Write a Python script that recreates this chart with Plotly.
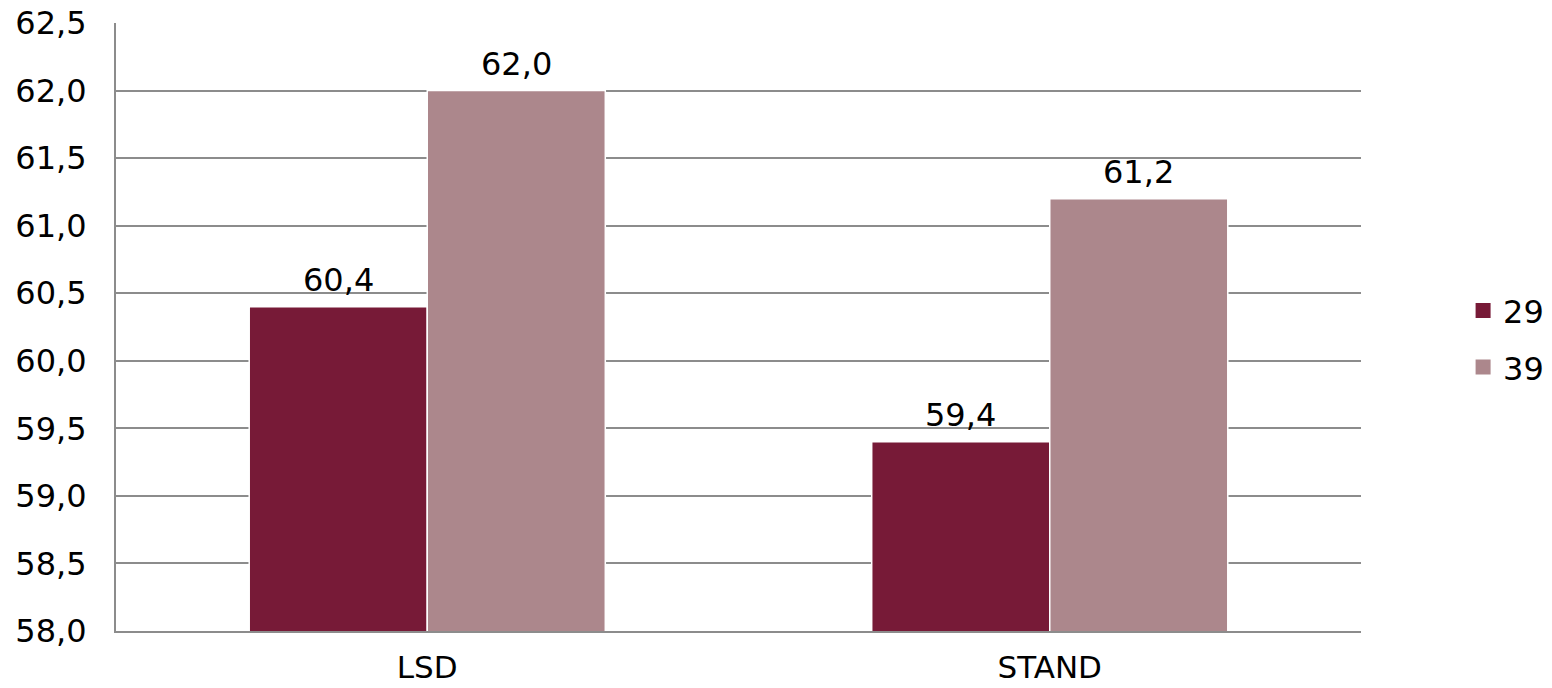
import plotly.graph_objects as go

categories = ["LSD", "STAND"]
series_names = ["29", "39"]
values_29 = [60.4, 59.4]
values_39 = [62.0, 61.2]
y_ticks = [58.0, 58.5, 59.0, 59.5, 60.0, 60.5, 61.0, 61.5, 62.0, 62.5]

colors = ["#771A37", "#AC878C"]
font_family = "Verdana, DejaVu Sans, sans-serif"
font_size = 32
bargap = 0.428


def fmt(v):
    return f"{v:.1f}".replace(".", ",")


fig = go.Figure()
series = [values_29, values_39]
for name, vals, col in zip(series_names, series, colors):
    fig.add_trace(go.Bar(
        x=categories,
        y=vals,
        name=name,
        showlegend=False,
        marker=dict(color=col, line=dict(color="white", width=1.5)),
        cliponaxis=False,
    ))

# legend entries with larger square swatches
for name, col in zip(series_names, colors):
    fig.add_trace(go.Scatter(
        x=[None], y=[None], mode="markers", name=name, legendgroup=name,
        marker=dict(symbol="square", size=15, color=col),
    ))

# value labels above each bar, offset to the bar's slot within its group
plot_w = 1552 - 116 - 191
bar_w = plot_w / len(categories) * (1 - bargap) / len(series)
for i, vals in enumerate(series):
    dx = (i - (len(series) - 1) / 2) * bar_w
    for cat, v in zip(categories, vals):
        fig.add_annotation(
            x=cat, y=v, text=fmt(v), showarrow=False,
            xshift=dx, yshift=6, yanchor="bottom",
            font=dict(size=font_size, color="black", family=font_family),
        )

fig.update_layout(
    width=1552,
    height=688,
    margin=dict(l=116, r=191, t=23, b=57, autoexpand=False),
    paper_bgcolor="white",
    plot_bgcolor="white",
    barmode="group",
    bargap=bargap,
    bargroupgap=0.0,
    separators=",.",
    font=dict(family=font_family, size=font_size, color="black"),
    showlegend=True,
    legend=dict(
        x=1.082, y=0.48, xanchor="left", yanchor="middle",
        font=dict(size=font_size, family=font_family, color="black"),
        itemwidth=30,
        tracegroupgap=12,
    ),
    xaxis=dict(
        showgrid=False,
        showline=True,
        linecolor="#8C8C8C",
        linewidth=2,
        ticks="",
        tickfont=dict(size=31),
        ticklabelstandoff=8,
        automargin=False,
    ),
    yaxis=dict(
        range=[58.0, 62.5],
        tickvals=y_ticks,
        ticktext=[fmt(v) for v in y_ticks],
        showgrid=True,
        gridcolor="#8C8C8C",
        gridwidth=1.5,
        showline=True,
        linecolor="#8C8C8C",
        linewidth=2,
        ticks="",
        tickfont=dict(size=font_size),
        ticklabelstandoff=21,
        zeroline=False,
        automargin=False,
    ),
)

fig.write_html("out.html")
